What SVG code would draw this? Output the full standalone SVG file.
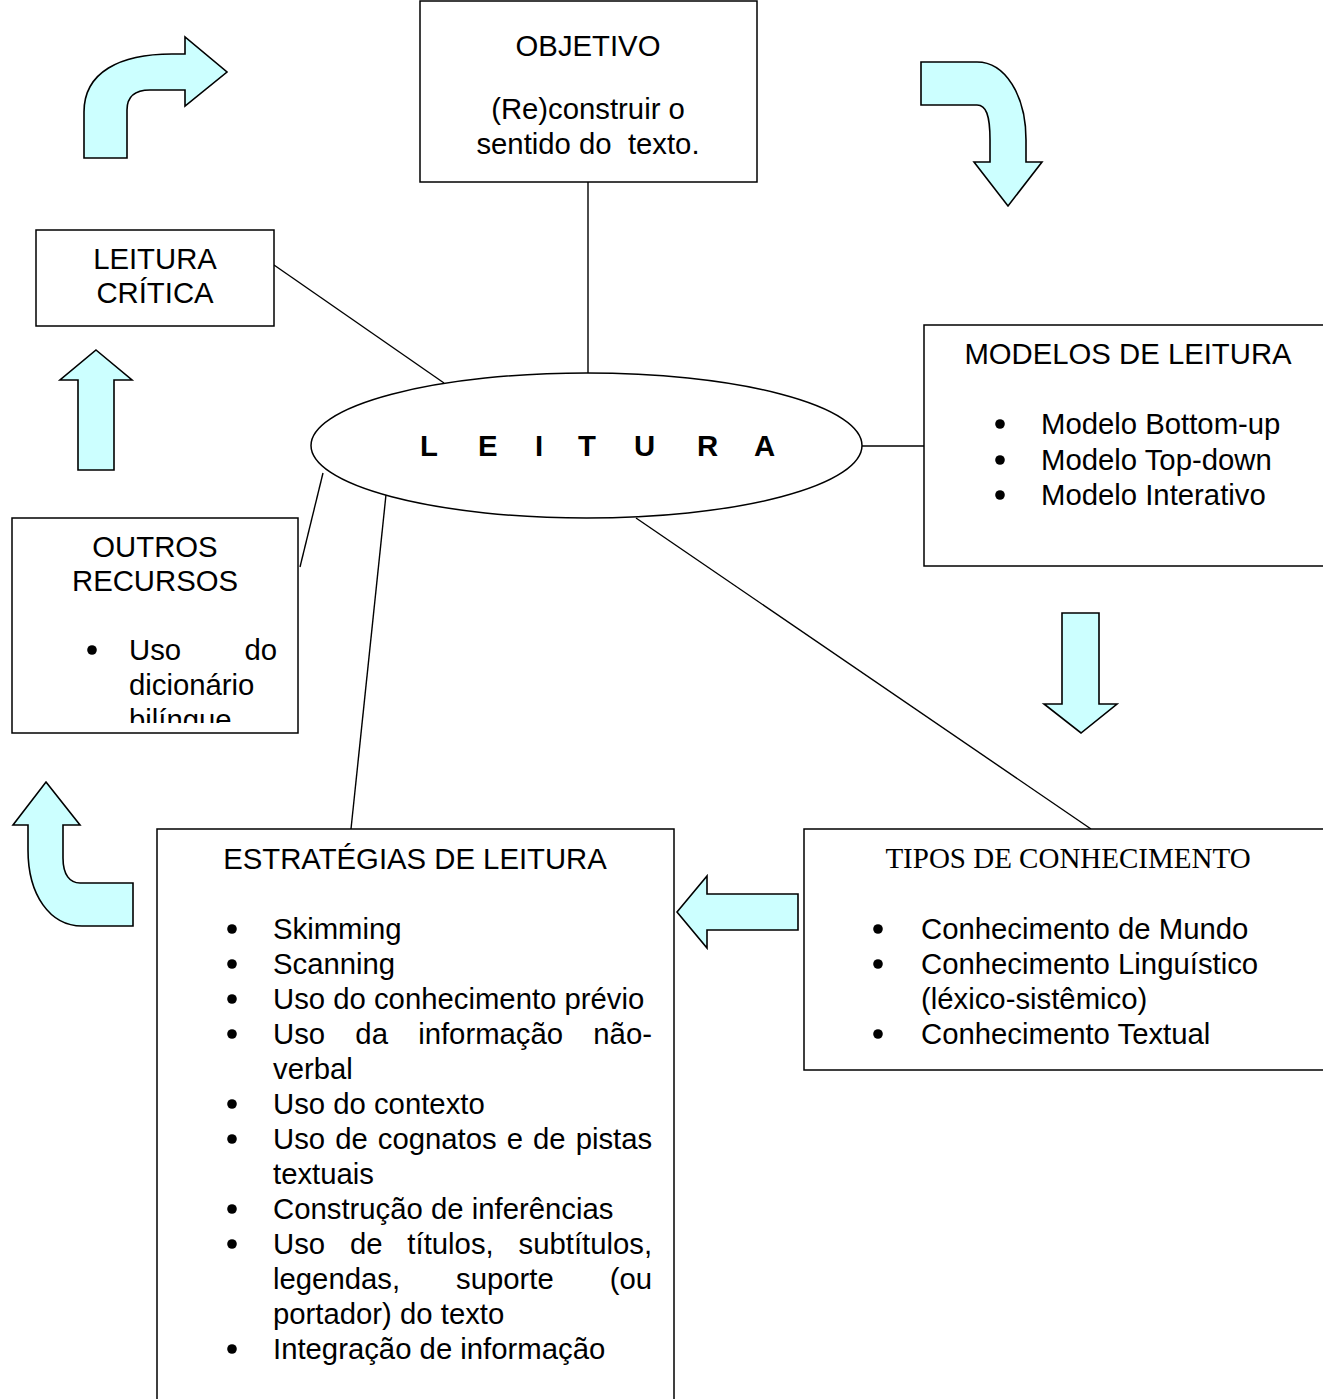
<svg xmlns="http://www.w3.org/2000/svg" width="1323" height="1399" viewBox="0 0 1323 1399">
<style>
.box{fill:#fff;stroke:#000;stroke-width:1.5}
.arr{fill:#CCFFFF;stroke:#000;stroke-width:1.6;stroke-linejoin:miter}
.ln{stroke:#000;stroke-width:1.4;fill:none}
.t{font-family:"Liberation Sans",Arial,sans-serif;font-size:29.3px;fill:#000}
.ts{font-family:"Liberation Serif","Times New Roman",serif;font-size:29px;fill:#000}
.c{text-anchor:middle}
.b{fill:#000}
</style>
<defs>
<clipPath id="clipOutros"><rect x="12" y="518" width="286" height="205"/></clipPath>
</defs>
<rect width="1323" height="1399" fill="#fff"/>

<g id="connectors">
<line class="ln" x1="588" y1="182" x2="588" y2="373"/>
<line class="ln" x1="274" y1="265" x2="444" y2="383"/>
<line class="ln" x1="862" y1="446" x2="924" y2="446"/>
<line class="ln" x1="300" y1="567" x2="323" y2="473"/>
<line class="ln" x1="389" y1="466" x2="351" y2="829"/>
<line class="ln" x1="636" y1="518" x2="1091" y2="829"/>
</g>

<g id="arrows">
<path class="arr" d="M84,158 L84,112 C84,72 120,54 172,54 L185,54 L185,37 L227,72 L185,106 L185,90 L150,90 C135,90 127,97 127,110 L127,158 Z"/>
<path class="arr" d="M921,62 L977,62 C1005,62 1026,95 1026,140 L1026,162 L1042,162 L1008,206 L974,162 L990,162 L990,140 C990,115 986,105 977,105 L921,105 Z"/>
<path class="arr" d="M96,350 L132,380 L114,380 L114,470 L78,470 L78,380 L60,380 Z"/>
<path class="arr" d="M1062,613 L1099,613 L1099,704 L1117,704 L1081,733 L1044,704 L1062,704 Z"/>
<path class="arr" d="M46,782 L80,825 L63,825 L63,858 C63,875 70,883 80,883 L133,883 L133,926 L82,926 C50,926 28,895 28,850 L28,825 L13,825 Z"/>
<path class="arr" d="M677,912 L707,876 L707,894 L798,894 L798,930 L707,930 L707,948 Z"/>
</g>

<g id="objetivo">
<rect class="box" x="420" y="1" width="337" height="181"/>
<text class="t c" x="588" y="56">OBJETIVO</text>
<text class="t c" x="588" y="119">(Re)construir o</text>
<text class="t c" x="588" y="154" style="white-space:pre">sentido do  texto.</text>
</g>

<g id="leitura-critica">
<rect class="box" x="36" y="230" width="238" height="96"/>
<text class="t c" x="155" y="269">LEITURA</text>
<text class="t c" x="155" y="303">CRÍTICA</text>
</g>

<g id="leitura">
<ellipse cx="586.5" cy="445.5" rx="275.5" ry="72.5" fill="#fff" stroke="#000" stroke-width="1.5"/>
<text class="t" font-weight="bold" x="420 478 535 578 634 697 754" y="456">LEITURA</text>
</g>

<g id="modelos">
<rect class="box" x="924" y="325" width="410" height="241"/>
<text class="t c" x="1128" y="364">MODELOS DE LEITURA</text>
<circle class="b" cx="1000" cy="424" r="4.8"/>
<circle class="b" cx="1000" cy="460" r="4.8"/>
<circle class="b" cx="1000" cy="495" r="4.8"/>
<text class="t" x="1041" y="434">Modelo Bottom-up</text>
<text class="t" x="1041" y="470">Modelo Top-down</text>
<text class="t" x="1041" y="505">Modelo Interativo</text>
</g>

<g id="outros">
<rect class="box" x="12" y="518" width="286" height="215"/>
<text class="t c" x="155" y="557">OUTROS</text>
<text class="t c" x="155" y="591">RECURSOS</text>
<circle class="b" cx="92" cy="650" r="4.8"/>
<g clip-path="url(#clipOutros)">
<text class="t" x="129" y="660" word-spacing="55.2">Uso do</text>
<text class="t" x="129" y="695">dicionário</text>
<text class="t" x="129" y="730">bilíngue</text>
</g>
</g>

<g id="estrategias">
<rect class="box" x="157" y="829" width="517" height="620"/>
<text class="t c" x="415" y="869">ESTRATÉGIAS DE LEITURA</text>
<g>
<circle class="b" cx="232" cy="929" r="4.8"/>
<circle class="b" cx="232" cy="964" r="4.8"/>
<circle class="b" cx="232" cy="999" r="4.8"/>
<circle class="b" cx="232" cy="1034" r="4.8"/>
<circle class="b" cx="232" cy="1104" r="4.8"/>
<circle class="b" cx="232" cy="1139" r="4.8"/>
<circle class="b" cx="232" cy="1209" r="4.8"/>
<circle class="b" cx="232" cy="1244" r="4.8"/>
<circle class="b" cx="232" cy="1349" r="4.8"/>
</g>
<text class="t" x="273" y="939">Skimming</text>
<text class="t" x="273" y="974">Scanning</text>
<text class="t" x="273" y="1009">Uso do conhecimento prévio</text>
<text class="t" x="273" y="1044" word-spacing="22.1">Uso da informação não-</text>
<text class="t" x="273" y="1079">verbal</text>
<text class="t" x="273" y="1114">Uso do contexto</text>
<text class="t" x="273" y="1149" word-spacing="1.9">Uso de cognatos e de pistas</text>
<text class="t" x="273" y="1184">textuais</text>
<text class="t" x="273" y="1219">Construção de inferências</text>
<text class="t" x="273" y="1254" word-spacing="16.7">Uso de títulos, subtítulos,</text>
<text class="t" x="273" y="1289" word-spacing="47.8">legendas, suporte (ou</text>
<text class="t" x="273" y="1324">portador) do texto</text>
<text class="t" x="273" y="1359">Integração de informação</text>
</g>

<g id="tipos">
<rect class="box" x="804" y="829" width="530" height="241"/>
<text class="ts c" x="1068" y="868">TIPOS DE CONHECIMENTO</text>
<circle class="b" cx="878" cy="929" r="4.8"/>
<circle class="b" cx="878" cy="964" r="4.8"/>
<circle class="b" cx="878" cy="1034" r="4.8"/>
<text class="t" x="921" y="939">Conhecimento de Mundo</text>
<text class="t" x="921" y="974">Conhecimento Linguístico</text>
<text class="t" x="921" y="1009">(léxico-sistêmico)</text>
<text class="t" x="921" y="1044">Conhecimento Textual</text>
</g>
</svg>
